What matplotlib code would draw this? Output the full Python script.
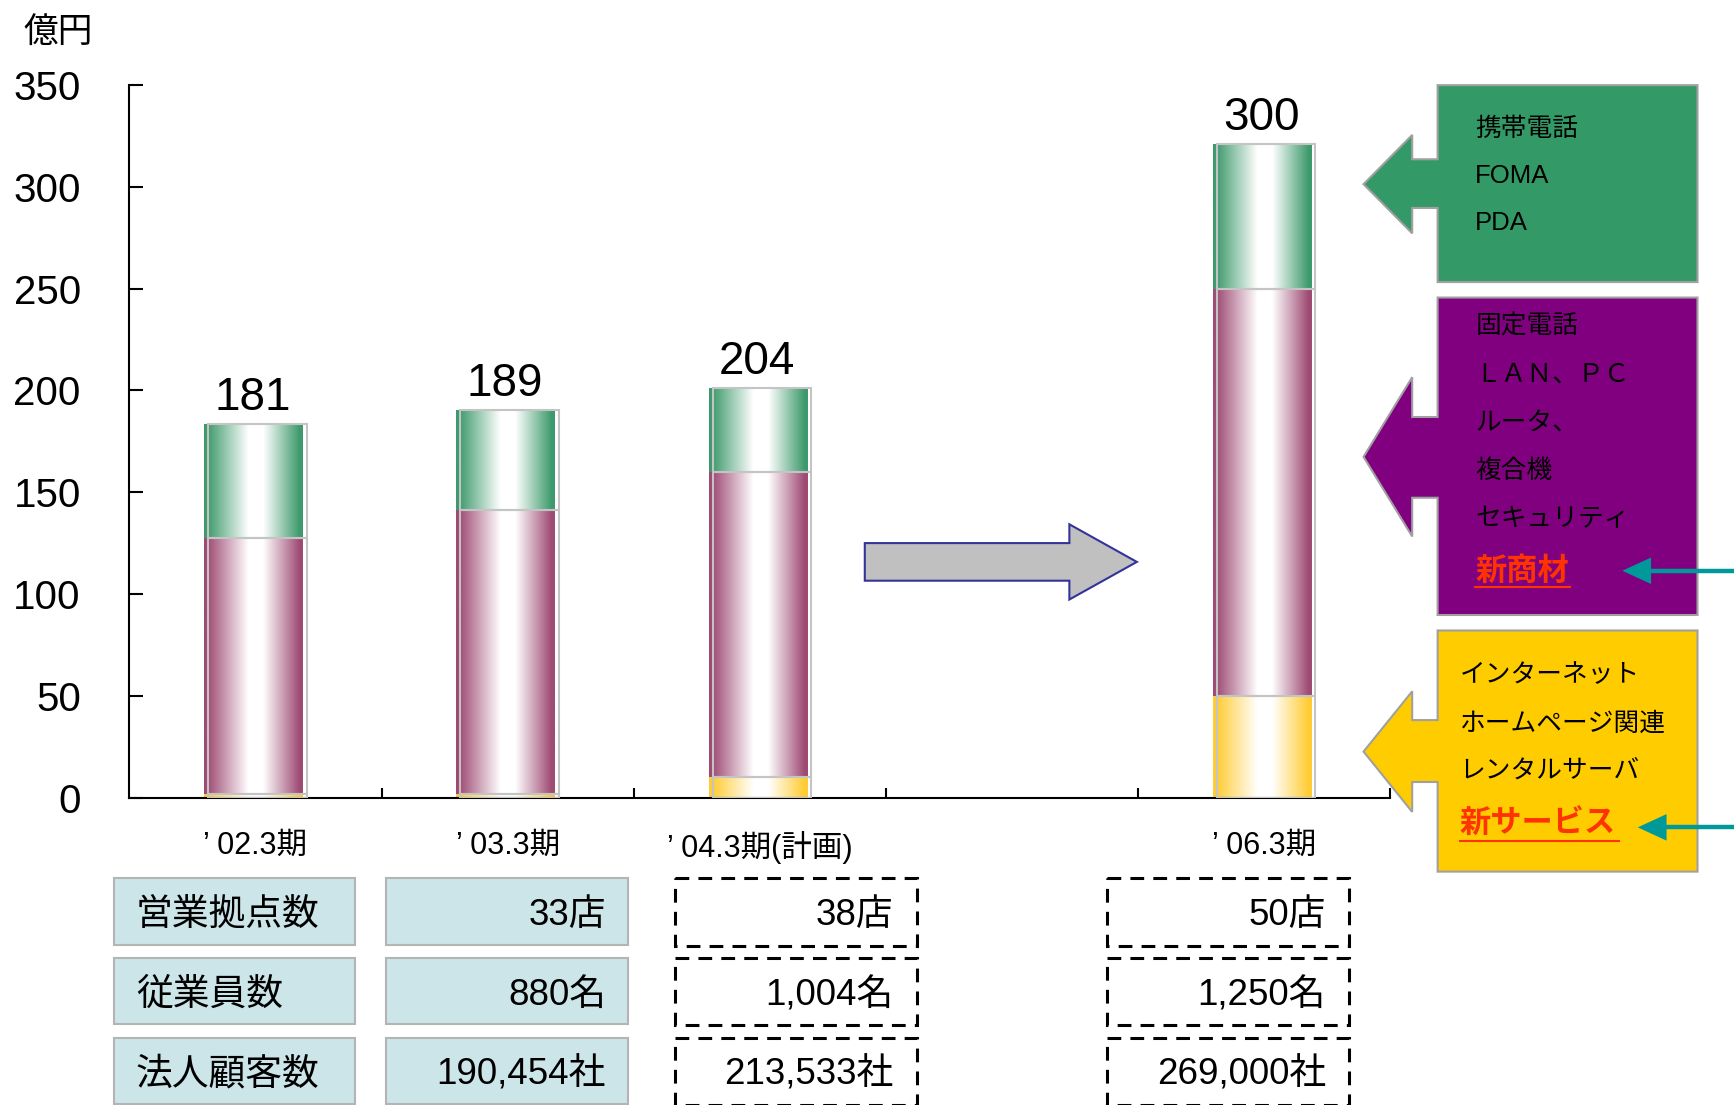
import numpy as np
import matplotlib.pyplot as plt
from matplotlib.colors import LinearSegmentedColormap
from matplotlib.patches import Rectangle, Polygon

plt.rcParams['font.family'] = ['Liberation Sans', 'Noto Sans CJK JP']

# chart data
periods = ['’ 02.3期', '’ 03.3期', '’ 04.3期(計画)', '', '’ 06.3期']
bar_pos = [0, 1, 2, 4]
yellow_vals = [1.5, 1.5, 10, 50]
purple_vals = [126, 140, 150, 200]
green_vals = [56, 49, 41, 71]
total_labels = ['181', '189', '204', '300']
yticks = [0, 50, 100, 150, 200, 250, 300, 350]

# table under the chart
row_names = ['営業拠点数', '従業員数', '法人顧客数']
vals_03 = ['33店', '880名', '190,454社']
vals_04 = ['38店', '1,004名', '213,533社']
vals_06 = ['50店', '1,250名', '269,000社']

# callout boxes
green_items = ['携帯電話', 'FOMA', 'PDA']
purple_items = ['固定電話', 'ＬＡＮ、ＰＣ', 'ルータ、', '複合機', 'セキュリティ']
yellow_items = ['インターネット', 'ホームページ関連', 'レンタルサーバ']

GREEN = '#3d9a6c'
PURPLE = '#9e4a73'
YELLOW = '#ffcc33'
W, H = 1568, 999


def grad(c):
    return LinearSegmentedColormap.from_list(
        'g', [(0, c), (0.03, c), (0.45, 'white'), (0.6, 'white'), (0.97, c), (1, c)])


fig = plt.figure(figsize=(17.34, 11.05), dpi=100)
ax = fig.add_axes([117 / W, 1 - 721 / H, (1257 - 117) / W, (721 - 77) / H])

ramp = np.linspace(0, 1, 256).reshape(1, -1)
width = 0.39
off = 0.008
for i, x in enumerate(bar_pos):
    bottom = 0
    for vals, col in [(yellow_vals, YELLOW), (purple_vals, PURPLE), (green_vals, GREEN)]:
        h = vals[i]
        ax.imshow(ramp, cmap=grad(col), aspect='auto', interpolation='bilinear',
                  extent=(x - width / 2 - off, x + width / 2 - off, bottom, bottom + h), zorder=2)
        ax.add_patch(Rectangle((x - width / 2 + off, bottom), width, h, fill=False,
                               ec='#c4c4c4', lw=1.5, zorder=3))
        bottom += h
    ax.text(x - 0.01, bottom + 7, total_labels[i], ha='center', va='baseline', fontsize=33, zorder=4)

ax.set_xlim(-0.5, 4.5)
ax.set_ylim(0, 350)
ax.set_yticks(yticks)
ax.set_xticks(range(len(periods)), periods)
ax.set_xticks(np.arange(0.5, 5, 1), minor=True)
ax.spines['top'].set_visible(False)
ax.spines['right'].set_visible(False)
ax.spines['left'].set_linewidth(1.5)
ax.spines['bottom'].set_linewidth(1.5)
ax.tick_params(axis='y', direction='in', length=10, width=1.5, labelsize=29, pad=35)
ax.tick_params(axis='x', which='major', length=0, labelsize=22, pad=24)
ax.tick_params(axis='x', which='minor', direction='in', length=7, width=1.5)
fig.text(21 / W, 1 - 30 / H, '億円', fontsize=25, va='center', ha='left')

# overlay in picture coordinates for the decorations
ov = fig.add_axes([0, 0, 1, 1])
ov.set_xlim(0, W)
ov.set_ylim(H, 0)
ov.axis('off')


def callout(box, head, stem, hx, tip_x, color):
    x0, x1, y0, y1 = box
    pts = [(x0, y0), (x1, y0), (x1, y1), (x0, y1), (x0, stem[1]), (hx, stem[1]),
           (hx, head[1]), (tip_x, (head[0] + head[1]) / 2), (hx, head[0]),
           (hx, stem[0]), (x0, stem[0])]
    ov.add_patch(Polygon(pts, closed=True, fc=color, ec='#a0a0a0', lw=1.5))


def teal_arrow(tip_x, back_x, y):
    ov.plot([back_x - 2, W], [y, y], color='#009999', lw=3.2, solid_capstyle='butt')
    ov.add_patch(Polygon([(tip_x, y), (back_x, y - 12), (back_x, y + 12)],
                         closed=True, fc='#009999', ec='none'))


callout((1300, 1535, 77, 255), (122, 211), (144, 188), 1277, 1233, '#339966')
for t, y in zip(green_items, [117, 159, 202]):
    ov.text(1334, y, t, fontsize=18.5, va='center', ha='left')

callout((1300, 1535, 269, 556), (341, 485), (377, 450), 1277, 1233, '#800080')
for t, y in zip(purple_items, [295, 339, 383, 426, 469]):
    ov.text(1334, y, t, fontsize=18.5, va='center', ha='left')
ov.text(1334, 517, '新商材', fontsize=22.5, color='#ff3300', fontweight='bold', va='center')
ov.plot([1334, 1420], [531, 531], color='#ff3300', lw=1.5)
teal_arrow(1467, 1493, 516)

callout((1300, 1535, 570, 788), (625, 734), (651, 707), 1277, 1233, '#ffcc00')
for t, y in zip(yellow_items, [610, 654, 697]):
    ov.text(1320, y, t, fontsize=18.5, va='center', ha='left')
ov.text(1320, 746, '新サービス', fontsize=22.5, color='#ff3300', fontweight='bold', va='center')
ov.plot([1320, 1464], [760, 760], color='#ff3300', lw=1.5)
teal_arrow(1481, 1507, 748)

# gray arrow between the plan year and '06
ov.add_patch(Polygon([(782, 491), (967, 491), (967, 474), (1028, 508), (967, 542),
                      (967, 525), (782, 525)], closed=True, fc='#c0c0c0', ec='#333399', lw=1.5))

# table
row_tops = [794, 866, 938]
for r, top in enumerate(row_tops):
    ov.add_patch(Rectangle((103, top), 218, 60, fc='#cce5e9', ec='#b4b4b4', lw=1.5))
    ov.add_patch(Rectangle((349, top), 219, 60, fc='#cce5e9', ec='#b4b4b4', lw=1.5))
    for x0 in (610, 1001):
        ov.add_patch(Rectangle((x0, top), 219, 61, fill=False, ec='black', lw=2.2,
                               ls=(0, (4.5, 3))))
    cy = top + 34
    ov.text(123, cy, row_names[r], fontsize=26.5, va='center', ha='left')
    ov.text(548, cy, vals_03[r], fontsize=26.5, va='center', ha='right')
    ov.text(808, cy, vals_04[r], fontsize=26.5, va='center', ha='right')
    ov.text(1199, cy, vals_06[r], fontsize=26.5, va='center', ha='right')

fig.savefig('out.png', dpi=100)
